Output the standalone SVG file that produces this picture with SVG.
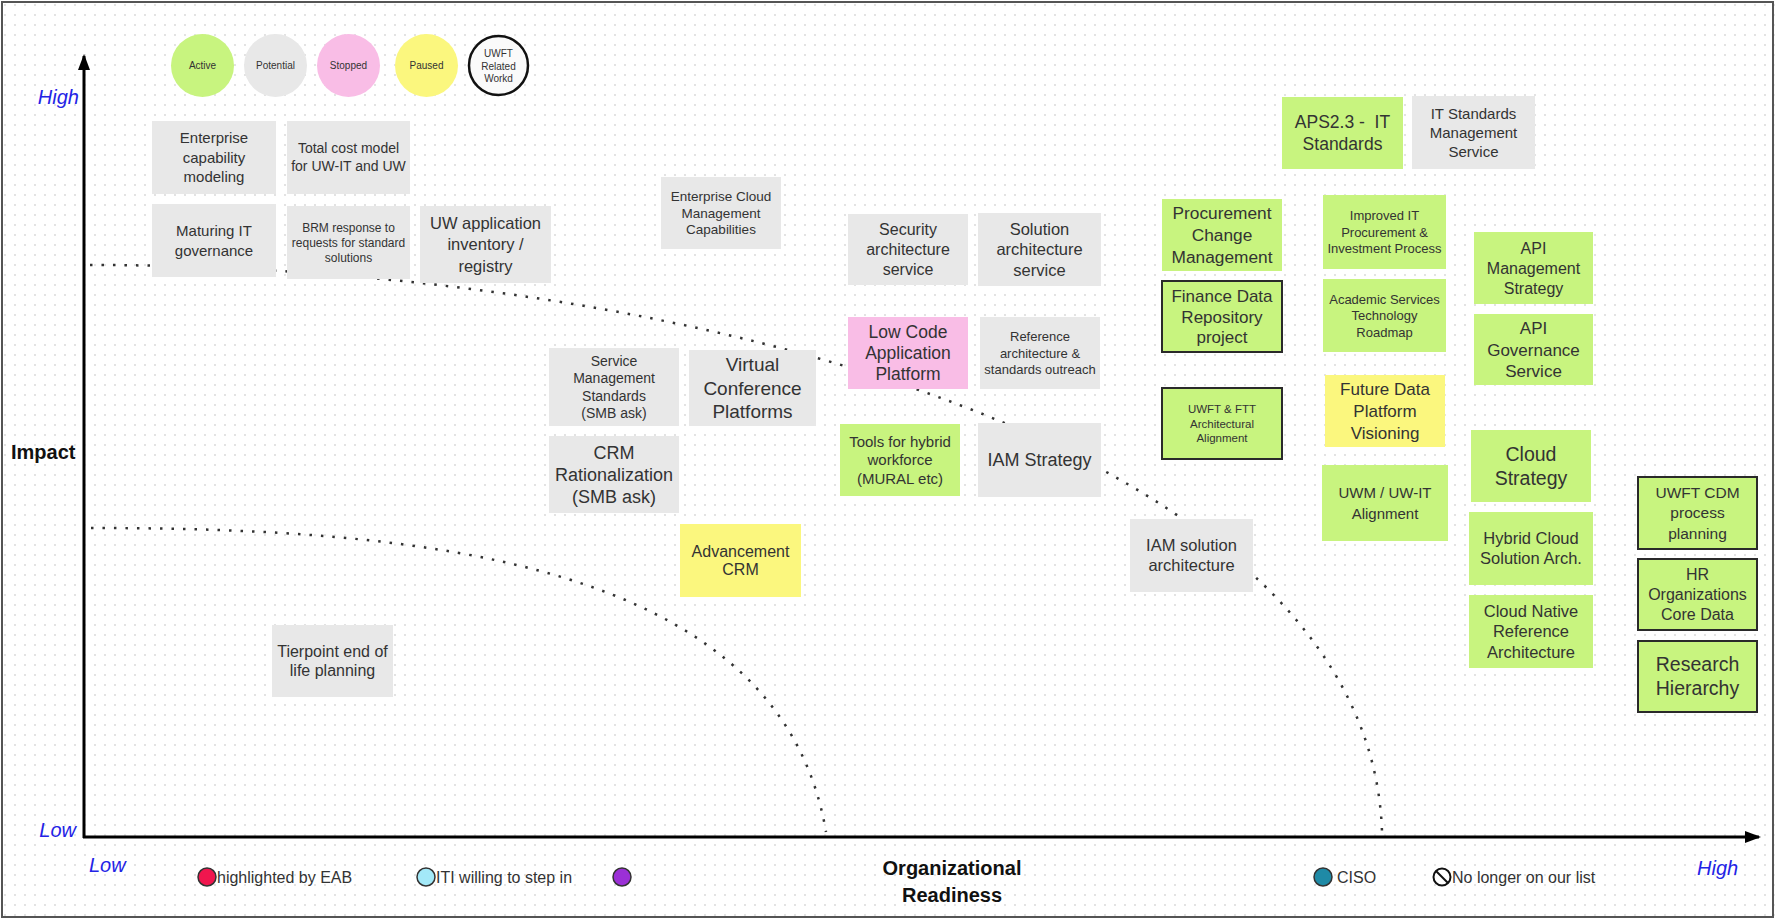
<svg xmlns="http://www.w3.org/2000/svg" width="1775" height="919" viewBox="0 0 1775 919">
<defs>
<pattern id="grid" width="10" height="10" patternUnits="userSpaceOnUse">
<circle cx="5" cy="5" r="0.9" fill="#d6d6d6"/>
</pattern>
<marker id="ah" viewBox="0 0 16 12" refX="14" refY="6" markerWidth="16" markerHeight="12" markerUnits="userSpaceOnUse" orient="auto">
<path d="M0,0 L16,6 L0,12 Z" fill="#000"/>
</marker>
<style>
text{font-family:'Liberation Sans',Arial,sans-serif;fill:#333;text-anchor:middle}
.gy{fill:#e8e8e8}
.gn{fill:#c8f47f}
.pk{fill:#f9bde6}
.yl{fill:#fbf77e}
.bd{stroke:#2a2a2a;stroke-width:2}
.ax{stroke:#000;stroke-width:3;fill:none}
.dot{stroke:#333;stroke-width:2.5;fill:none;stroke-dasharray:2.5 9}
.lbl{font-style:italic;fill:#2323e6;font-size:20px}
.axt{font-weight:bold;fill:#111;font-size:20px}
.leg{font-size:16px;text-anchor:start}
.lc{stroke:#333;stroke-width:1.5}
</style>
</defs>
<rect x="0" y="0" width="1775" height="919" fill="#fff"/>
<rect x="0" y="0" width="1775" height="919" fill="url(#grid)"/>
<rect x="2" y="2" width="1771" height="915" fill="none" stroke="#555" stroke-width="2"/>

<g id="legend-status">
<circle cx="202.5" cy="65.5" r="31.5" fill="#c8f47f"/>
<text x="202.5" y="69" font-size="10">Active</text>
<circle cx="275.5" cy="65.5" r="31.5" fill="#e8e8e8"/>
<text x="275.5" y="69" font-size="10">Potential</text>
<circle cx="348.5" cy="65.5" r="31.5" fill="#f9bde6"/>
<text x="348.5" y="69" font-size="10">Stopped</text>
<circle cx="426.5" cy="65.5" r="31.5" fill="#fbf77e"/>
<text x="426.5" y="69" font-size="10">Paused</text>
<circle cx="498.5" cy="65.5" r="29.5" fill="#fafafa" stroke="#111" stroke-width="2.5"/>
<text x="498.5" font-size="10"><tspan x="498.5" y="56.5">UWFT</tspan><tspan x="498.5" y="69.5">Related</tspan><tspan x="498.5" y="81.5">Workd</tspan></text>
</g>

<g id="curves">
<path class="dot" d="M90,265 C700,265 1370,450 1382,832"/>
<path class="dot" d="M91,528 C420,528 780,560 826,832"/>
</g>

<g id="axes">
<line class="ax" x1="84" y1="838" x2="84" y2="56" marker-end="url(#ah)"/>
<line class="ax" x1="83" y1="837" x2="1759" y2="837" marker-end="url(#ah)"/>
<text class="lbl" x="79" y="104" style="text-anchor:end">High</text>
<text class="lbl" x="76" y="837" style="text-anchor:end">Low</text>
<text class="lbl" x="89" y="872" style="text-anchor:start">Low</text>
<text class="lbl" x="1697" y="875" style="text-anchor:start">High</text>
<text class="axt" x="11" y="459" style="text-anchor:start">Impact</text>
<text class="axt" x="952" y="875">Organizational</text>
<text class="axt" x="952" y="902">Readiness</text>
</g>

<g id="legend-markers">
<circle class="lc" cx="207" cy="877" r="9" fill="#f0164e"/>
<text class="leg" x="217" y="882.5">highlighted by EAB</text>
<circle class="lc" cx="426" cy="877" r="9" fill="#a3e9f8"/>
<text class="leg" x="436" y="882.5">ITI willing to step in</text>
<circle class="lc" cx="622" cy="877" r="9" fill="#9b30d6"/>
<circle class="lc" cx="1323" cy="877" r="9" fill="#1f8aa6"/>
<text class="leg" x="1337" y="882.5">CISO</text>
<circle cx="1442" cy="877" r="8.5" fill="#fff" stroke="#111" stroke-width="2"/>
<line x1="1436" y1="871" x2="1448" y2="883" stroke="#111" stroke-width="2"/>
<text class="leg" x="1452" y="882.5">No longer on our list</text>
</g>

<g id="n-ecm"><rect class="gy" x="152" y="121" width="124" height="73"/>
<text font-size="15"><tspan x="214" y="143.3">Enterprise</tspan><tspan x="214" y="162.8">capability</tspan><tspan x="214" y="182.3">modeling</tspan></text></g>
<g id="n-tcm"><rect class="gy" x="287" y="121" width="123" height="73"/>
<text font-size="14"><tspan x="348.5" y="153.4">Total cost model</tspan><tspan x="348.5" y="171.4">for UW-IT and UW</tspan></text></g>
<g id="n-mitg"><rect class="gy" x="152" y="204" width="124" height="73"/>
<text font-size="15"><tspan x="214" y="236">Maturing IT</tspan><tspan x="214" y="255.5">governance</tspan></text></g>
<g id="n-brm"><rect class="gy" x="287" y="206" width="123" height="73"/>
<text font-size="12"><tspan x="348.5" y="231.7">BRM response to</tspan><tspan x="348.5" y="246.7">requests for standard</tspan><tspan x="348.5" y="261.7">solutions</tspan></text></g>
<g id="n-uwapp"><rect class="gy" x="420" y="206" width="131" height="77"/>
<text font-size="16.5"><tspan x="485.5" y="229">UW application</tspan><tspan x="485.5" y="250.3">inventory /</tspan><tspan x="485.5" y="271.6">registry</tspan></text></g>
<g id="n-ecmc"><rect class="gy" x="661" y="177" width="120" height="72"/>
<text font-size="13.5"><tspan x="721" y="201">Enterprise Cloud</tspan><tspan x="721" y="217.7">Management</tspan><tspan x="721" y="234.4">Capabilities</tspan></text></g>
<g id="n-sec"><rect class="gy" x="848" y="214" width="120" height="71"/>
<text font-size="16"><tspan x="908" y="235.4">Security</tspan><tspan x="908" y="255.1">architecture</tspan><tspan x="908" y="274.8">service</tspan></text></g>
<g id="n-sol"><rect class="gy" x="978" y="213" width="123" height="73"/>
<text font-size="16.5"><tspan x="1039.5" y="234.8">Solution</tspan><tspan x="1039.5" y="255.3">architecture</tspan><tspan x="1039.5" y="275.8">service</tspan></text></g>
<g id="n-lowcode"><rect class="pk" x="848" y="317" width="120" height="72"/>
<text font-size="17.5"><tspan x="908" y="338.1">Low Code</tspan><tspan x="908" y="359.1">Application</tspan><tspan x="908" y="380.1">Platform</tspan></text></g>
<g id="n-ref"><rect class="gy" x="980" y="317" width="120" height="72"/>
<text font-size="13"><tspan x="1040" y="341.3">Reference</tspan><tspan x="1040" y="357.5">architecture &amp;</tspan><tspan x="1040" y="373.7">standards outreach</tspan></text></g>
<g id="n-sms"><rect class="gy" x="549" y="348" width="130" height="78"/>
<text font-size="14"><tspan x="614" y="365.5">Service</tspan><tspan x="614" y="383.1">Management</tspan><tspan x="614" y="400.7">Standards</tspan><tspan x="614" y="418.3">(SMB ask)</tspan></text></g>
<g id="n-vcp"><rect class="gy" x="689" y="350" width="127" height="76"/>
<text font-size="19"><tspan x="752.5" y="371.2">Virtual</tspan><tspan x="752.5" y="394.7">Conference</tspan><tspan x="752.5" y="418.2">Platforms</tspan></text></g>
<g id="n-crm"><rect class="gy" x="549" y="436" width="130" height="77"/>
<text font-size="18"><tspan x="614" y="458.8">CRM</tspan><tspan x="614" y="480.8">Rationalization</tspan><tspan x="614" y="502.8">(SMB ask)</tspan></text></g>
<g id="n-tools"><rect class="gn" x="840" y="424" width="120" height="72"/>
<text font-size="15"><tspan x="900" y="446.6">Tools for hybrid</tspan><tspan x="900" y="465.3">workforce</tspan><tspan x="900" y="484">(MURAL etc)</tspan></text></g>
<g id="n-iam"><rect class="gy" x="978" y="423" width="123" height="74"/>
<text font-size="18" x="1039.5" y="466.3">IAM Strategy</text></g>
<g id="n-advcrm"><rect class="yl" x="680" y="524" width="121" height="73"/>
<text font-size="16"><tspan x="740.5" y="556.9">Advancement</tspan><tspan x="740.5" y="575.4">CRM</tspan></text></g>
<g id="n-tier"><rect class="gy" x="272" y="625" width="121" height="72"/>
<text font-size="16"><tspan x="332.5" y="657">Tierpoint end of</tspan><tspan x="332.5" y="676.3">life planning</tspan></text></g>
<g id="n-iamsol"><rect class="gy" x="1130" y="519" width="123" height="73"/>
<text font-size="16.5"><tspan x="1191.5" y="551.3">IAM solution</tspan><tspan x="1191.5" y="571.3">architecture</tspan></text></g>
<g id="n-aps"><rect class="gn" x="1282" y="97" width="121" height="72"/>
<text font-size="17.5" xml:space="preserve"><tspan x="1342.5" y="128">APS2.3 -  IT</tspan><tspan x="1342.5" y="150.3">Standards</tspan></text></g>
<g id="n-itsms"><rect class="gy" x="1412" y="96" width="123" height="73"/>
<text font-size="15"><tspan x="1473.5" y="118.8">IT Standards</tspan><tspan x="1473.5" y="137.8">Management</tspan><tspan x="1473.5" y="156.8">Service</tspan></text></g>
<g id="n-pcm"><rect class="gn" x="1162" y="199" width="120" height="72"/>
<text font-size="17.3"><tspan x="1222" y="219">Procurement</tspan><tspan x="1222" y="241">Change</tspan><tspan x="1222" y="263">Management</tspan></text></g>
<g id="n-fdr"><rect class="gn bd" x="1162" y="281" width="120" height="71"/>
<text font-size="17"><tspan x="1222" y="301.7">Finance Data</tspan><tspan x="1222" y="322.5">Repository</tspan><tspan x="1222" y="343.3">project</tspan></text></g>
<g id="n-uwftftt"><rect class="gn bd" x="1162" y="388" width="120" height="71"/>
<text font-size="11.5"><tspan x="1222" y="412.8">UWFT &amp; FTT</tspan><tspan x="1222" y="427.5">Architectural</tspan><tspan x="1222" y="442.2">Alignment</tspan></text></g>
<g id="n-iitp"><rect class="gn" x="1323" y="195" width="123" height="74"/>
<text font-size="13"><tspan x="1384.5" y="219.9">Improved IT</tspan><tspan x="1384.5" y="236.6">Procurement &amp;</tspan><tspan x="1384.5" y="253.3">Investment Process</tspan></text></g>
<g id="n-astr"><rect class="gn" x="1323" y="279" width="123" height="73"/>
<text font-size="13"><tspan x="1384.5" y="303.6">Academic Services</tspan><tspan x="1384.5" y="320">Technology</tspan><tspan x="1384.5" y="336.6">Roadmap</tspan></text></g>
<g id="n-fdpv"><rect class="yl" x="1325" y="375" width="120" height="72"/>
<text font-size="17"><tspan x="1385" y="395.3">Future Data</tspan><tspan x="1385" y="417">Platform</tspan><tspan x="1385" y="438.7">Visioning</tspan></text></g>
<g id="n-uwm"><rect class="gn" x="1322" y="465" width="126" height="76"/>
<text font-size="15"><tspan x="1385" y="498">UWM / UW-IT</tspan><tspan x="1385" y="518.5">Alignment</tspan></text></g>
<g id="n-apims"><rect class="gn" x="1474" y="232" width="119" height="72"/>
<text font-size="16"><tspan x="1533.5" y="253.6">API</tspan><tspan x="1533.5" y="273.6">Management</tspan><tspan x="1533.5" y="293.6">Strategy</tspan></text></g>
<g id="n-apigs"><rect class="gn" x="1474" y="314" width="119" height="71"/>
<text font-size="17"><tspan x="1533.5" y="334">API</tspan><tspan x="1533.5" y="355.5">Governance</tspan><tspan x="1533.5" y="377">Service</tspan></text></g>
<g id="n-cloud"><rect class="gn" x="1471" y="430" width="120" height="72"/>
<text font-size="19.5"><tspan x="1531" y="461">Cloud</tspan><tspan x="1531" y="484.6">Strategy</tspan></text></g>
<g id="n-hybrid"><rect class="gn" x="1469" y="512" width="124" height="73"/>
<text font-size="16.5"><tspan x="1531" y="544.3">Hybrid Cloud</tspan><tspan x="1531" y="564.3">Solution Arch.</tspan></text></g>
<g id="n-cnra"><rect class="gn" x="1469" y="595" width="124" height="73"/>
<text font-size="16.5"><tspan x="1531" y="617">Cloud Native</tspan><tspan x="1531" y="637.3">Reference</tspan><tspan x="1531" y="657.6">Architecture</tspan></text></g>
<g id="n-cdm"><rect class="gn bd" x="1638" y="477" width="119" height="72"/>
<text font-size="15.5"><tspan x="1697.5" y="498.1">UWFT CDM</tspan><tspan x="1697.5" y="518.4">process</tspan><tspan x="1697.5" y="538.7">planning</tspan></text></g>
<g id="n-hr"><rect class="gn bd" x="1638" y="559" width="119" height="71"/>
<text font-size="16"><tspan x="1697.5" y="579.8">HR</tspan><tspan x="1697.5" y="600.1">Organizations</tspan><tspan x="1697.5" y="620.4">Core Data</tspan></text></g>
<g id="n-research"><rect class="gn bd" x="1638" y="641" width="119" height="71"/>
<text font-size="19.5"><tspan x="1697.5" y="671.3">Research</tspan><tspan x="1697.5" y="695.3">Hierarchy</tspan></text></g>
</svg>
